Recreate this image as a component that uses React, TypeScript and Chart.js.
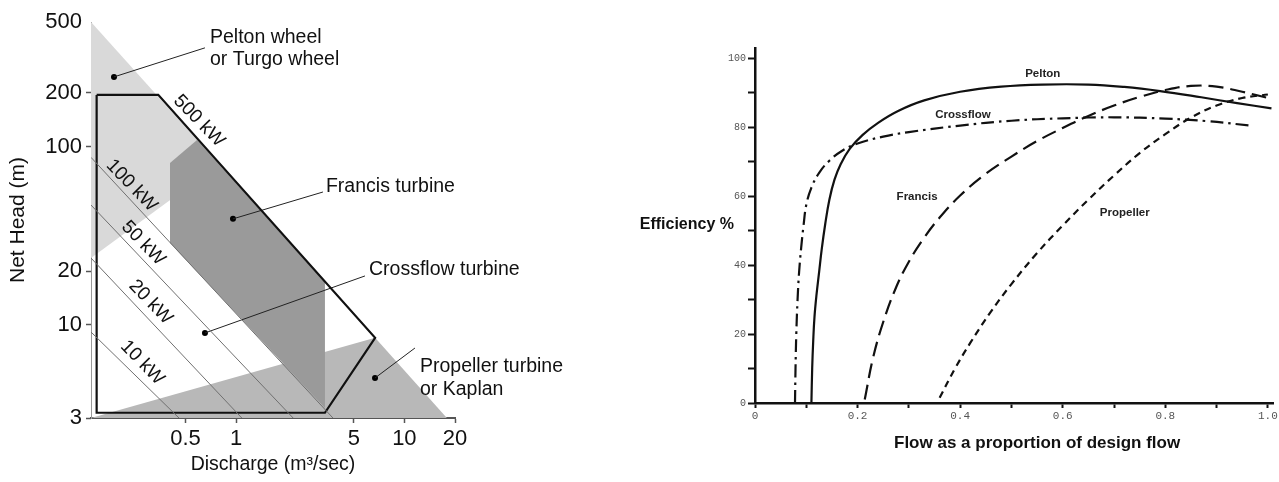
import React, { useEffect, useRef } from 'react';
import { Chart, registerables } from 'chart.js';

Chart.register(...registerables);

// ================= LEFT PANEL: turbine application ranges (log-log) =================
const headTicks = [3, 10, 20, 100, 200, 500];
const dischargeTicks = [0.5, 1, 5, 10, 20];

// Region polygons: discharge (m3/s) and net head (m)
const peltonRegionQ = [0.137, 0.137, 0.79];
const peltonRegionH = [500, 23.7, 79.5];
const propellerRegionQ = [0.137, 6.7, 17.9];
const propellerRegionH = [3, 8.45, 3];
const francisRegionQ = [0.404, 0.585, 3.37, 3.37, 0.404];
const francisRegionH = [80.9, 108.9, 17.4, 3.41, 28.8];

// Crossflow envelope (thick outline)
const crossflowOutlineQ = [0.148, 0.344, 6.7, 3.37, 0.148, 0.148];
const crossflowOutlineH = [195, 195, 8.45, 3.21, 3.21, 195];

// Constant power lines
const powerLabels = ['10 kW', '20 kW', '50 kW', '100 kW'];
const powerLineStartH = [9.11, 23.7, 47, 87];
const powerLineStartQ = [0.137, 0.137, 0.137, 0.137];
const powerLineEndQ = [0.457, 1.08, 2.18, 3.76];
const powerLineEndH = [3, 3, 3, 3];

// Power label anchors (500 kW labels the outline diagonal)
const powerTextLabels = ['500 kW', '100 kW', '50 kW', '20 kW', '10 kW'];
const powerTextQ = [0.601, 0.239, 0.28, 0.31, 0.2765];
const powerTextH = [139.3, 60.4, 28.7, 13.4, 6.13];

// Region names with leader lines (dot -> text end)
const regionNames = [
  ['Pelton wheel', 'or Turgo wheel'],
  ['Francis turbine'],
  ['Crossflow turbine'],
  ['Propeller turbine', 'or Kaplan'],
];
const leaderDotQ = [0.1877, 0.957, 0.652, 6.69];
const leaderDotH = [246, 39.3, 9.0, 5.03];
const leaderEndQ = [0.652, 3.28, 5.83, 11.56];
const leaderEndH = [358, 55.6, 18.8, 7.41];

// ================= RIGHT PANEL: part-flow efficiency =================
const peltonFlow = [0.110, 0.1115, 0.1135, 0.116, 0.12, 0.125, 0.13, 0.137, 0.145, 0.155, 0.167, 0.185, 0.21, 0.24, 0.28, 0.33, 0.4, 0.48, 0.56, 0.65, 0.72, 0.79, 0.87, 0.94, 1.007];
const peltonEff = [0, 10, 18, 25, 31.5, 38, 44.5, 52, 59, 64.8, 69.3, 73.8, 77.8, 81.3, 84.8, 87.8, 90.3, 91.8, 92.4, 92.4, 91.7, 90.5, 88.7, 87, 85.5];

const crossflowFlow = [0.078, 0.079, 0.0805, 0.083, 0.086, 0.09, 0.095, 0.1, 0.11, 0.125, 0.145, 0.17, 0.2, 0.25, 0.3, 0.4, 0.5, 0.6, 0.7, 0.8, 0.88, 0.965];
const crossflowEff = [0, 10, 20, 30, 38, 45, 52, 57.5, 62.5, 66.8, 70.3, 73.2, 75.3, 77.3, 78.6, 80.5, 81.9, 82.6, 82.9, 82.5, 81.8, 80.5];

const francisFlow = [0.214, 0.23, 0.25, 0.275, 0.3, 0.33, 0.36, 0.4, 0.45, 0.5, 0.55, 0.6, 0.65, 0.7, 0.75, 0.8, 0.85, 0.9, 0.95, 1.0];
const francisEff = [1, 13, 23.5, 33.5, 41, 48, 53.8, 60.2, 66.5, 71.5, 76, 79.8, 83.3, 86.3, 88.8, 90.8, 92, 91.8, 90.3, 88.5];

const propellerFlow = [0.36, 0.39, 0.42, 0.46, 0.5, 0.55, 0.6, 0.65, 0.7, 0.75, 0.8, 0.85, 0.9, 0.95, 1.0];
const propellerEff = [1.5, 10, 17.5, 26.5, 34.5, 43.5, 51.5, 59, 66, 72.5, 78, 82.8, 86.3, 88.5, 89.5];

const curveNames = ['Pelton', 'Crossflow', 'Francis', 'Propeller'];
const curveLabelFlow = [0.561, 0.4055, 0.316, 0.721];
const curveLabelEff = [95.4, 83.5, 59.7, 55.1];

const effTicks = [0, 20, 40, 60, 80, 100];

// ---------------------------------------------------------------
const SANS = '"Liberation Sans", Arial, Helvetica, sans-serif';
const MONO = '"Liberation Mono", "DejaVu Sans Mono", monospace';

const pts = (xs: number[], ys: number[]) => xs.map((x, i) => ({ x, y: ys[i] }));

function leftConfig(): any {
  const polys = [
    { q: peltonRegionQ, h: peltonRegionH, color: '#d9d9d9' },
    { q: propellerRegionQ, h: propellerRegionH, color: '#b8b8b8' },
    { q: francisRegionQ, h: francisRegionH, color: '#9a9a9a' },
  ];
  const line = (data: any[], color: string, width: number) => ({
    data,
    showLine: true,
    borderColor: color,
    borderWidth: width,
    pointRadius: 0,
    fill: false,
    tension: 0,
  });
  const datasets: any[] = [];
  powerLabels.forEach((_, i) => {
    datasets.push(line([
      { x: powerLineStartQ[i], y: powerLineStartH[i] },
      { x: powerLineEndQ[i], y: powerLineEndH[i] },
    ], '#707070', 1));
  });
  datasets.push(line(pts(crossflowOutlineQ, crossflowOutlineH), '#111', 2.2));
  regionNames.forEach((_, i) => {
    datasets.push(line([
      { x: leaderDotQ[i], y: leaderDotH[i] },
      { x: leaderEndQ[i], y: leaderEndH[i] },
    ], '#222', 1));
  });
  datasets.push({
    data: pts(leaderDotQ, leaderDotH),
    showLine: false,
    pointRadius: 3,
    pointBackgroundColor: '#000',
    pointBorderWidth: 0,
  });

  const plugin = {
    id: 'leftDecor',
    beforeDatasetsDraw(chart: any) {
      const { ctx, scales } = chart;
      const xs = scales.x, ys = scales.y;
      ctx.save();
      for (const p of polys) {
        ctx.beginPath();
        p.q.forEach((q: number, i: number) => {
          const px = xs.getPixelForValue(q);
          const py = ys.getPixelForValue(p.h[i]);
          if (i === 0) ctx.moveTo(px, py); else ctx.lineTo(px, py);
        });
        ctx.closePath();
        ctx.fillStyle = p.color;
        ctx.fill();
      }
      ctx.restore();
    },
    afterDatasetsDraw(chart: any) {
      const { ctx, scales } = chart;
      const xs = scales.x, ys = scales.y;
      ctx.save();
      ctx.fillStyle = '#111';
      // power labels (rotated)
      ctx.font = `19px ${SANS}`;
      ctx.textAlign = 'center';
      ctx.textBaseline = 'middle';
      powerTextLabels.forEach((t, i) => {
        const px = xs.getPixelForValue(powerTextQ[i]);
        const py = ys.getPixelForValue(powerTextH[i]);
        ctx.save();
        ctx.translate(px, py);
        ctx.rotate((46 * Math.PI) / 180);
        ctx.fillText(t, 0, 0);
        ctx.restore();
      });
      // region names
      ctx.font = `19.5px ${SANS}`;
      ctx.textAlign = 'left';
      const offs = [
        { dx: 5, dy: -10, lh: 22 },
        { dx: 3, dy: -5, lh: 22 },
        { dx: 4, dy: -6, lh: 22 },
        { dx: 5, dy: 19, lh: 23 },
      ];
      regionNames.forEach((lines, i) => {
        const px = xs.getPixelForValue(leaderEndQ[i]);
        const py = ys.getPixelForValue(leaderEndH[i]);
        lines.forEach((t, k) => {
          ctx.fillText(t, px + offs[i].dx, py + offs[i].dy + k * offs[i].lh);
        });
      });
      ctx.restore();
    },
  };

  return {
    type: 'scatter',
    data: { datasets },
    plugins: [plugin],
    options: {
      animation: false,
      responsive: false,
      events: [],
      layout: { padding: { top: 22, right: 145, left: 0, bottom: 0 } },
      plugins: { legend: { display: false }, tooltip: { enabled: false } },
      scales: {
        x: {
          type: 'logarithmic',
          min: 0.137,
          max: 20,
          z: 1,
          afterBuildTicks: (s: any) => { s.ticks = dischargeTicks.map((v) => ({ value: v })); },
          afterFit: (s: any) => { s.height = 64; },
          ticks: {
            autoSkip: false,
            maxRotation: 0,
            padding: 3,
            color: '#111',
            font: { family: SANS, size: 22 },
            callback: (v: any) => String(v),
          },
          grid: { drawOnChartArea: false, drawTicks: true, tickLength: 5, tickColor: '#555', tickWidth: 1.5 },
          border: { display: true, color: '#555', width: 2 },
          title: {
            display: true,
            text: 'Discharge (m³/sec)',
            color: '#111',
            font: { family: SANS, size: 19.5 },
            padding: { top: 0, bottom: 6 },
          },
        },
        y: {
          type: 'logarithmic',
          min: 3,
          max: 500,
          z: 1,
          afterBuildTicks: (s: any) => { s.ticks = headTicks.map((v) => ({ value: v })); },
          afterFit: (s: any) => { s.width = 91; },
          ticks: {
            autoSkip: false,
            padding: 4,
            color: '#111',
            font: { family: SANS, size: 22 },
            callback: (v: any) => String(v),
          },
          grid: {
            drawOnChartArea: false,
            drawTicks: true,
            tickLength: 5,
            tickWidth: 1.5,
            tickColor: (c: any) => (c.tick && c.tick.value === 500 ? 'rgba(0,0,0,0)' : '#555'),
          },
          border: { display: true, color: '#999', width: 1 },
          title: {
            display: true,
            text: 'Net Head (m)',
            color: '#111',
            font: { family: SANS, size: 21 },
            padding: { top: 6, bottom: 0 },
          },
        },
      },
    },
  };
}

function rightConfig(): any {
  const curve = (xs: number[], ys: number[], dash: number[]) => ({
    data: pts(xs, ys),
    showLine: true,
    borderColor: '#111',
    borderWidth: 2.2,
    borderDash: dash,
    borderCapStyle: 'butt',
    pointRadius: 0,
    fill: false,
    tension: 0.4,
  });
  const datasets = [
    curve(peltonFlow, peltonEff, []),
    curve(crossflowFlow, crossflowEff, [13, 5, 2.5, 5]),
    curve(francisFlow, francisEff, [15, 7]),
    curve(propellerFlow, propellerEff, [7, 5]),
  ];

  const plugin = {
    id: 'rightDecor',
    afterDatasetsDraw(chart: any) {
      const { ctx, scales, chartArea } = chart;
      const xs = scales.x, ys = scales.y;
      ctx.save();
      ctx.fillStyle = '#222';
      ctx.textBaseline = 'middle';
      ctx.textAlign = 'center';
      ctx.font = `bold 11.5px ${SANS}`;
      curveNames.forEach((t, i) => {
        ctx.fillText(t, xs.getPixelForValue(curveLabelFlow[i]), ys.getPixelForValue(curveLabelEff[i]));
      });
      ctx.fillStyle = '#111';
      ctx.font = `bold 16px ${SANS}`;
      ctx.textAlign = 'right';
      ctx.fillText('Efficiency %', chartArea.left - 21, ys.getPixelForValue(51.9));
      ctx.font = `bold 17px ${SANS}`;
      ctx.textAlign = 'center';
      ctx.fillText('Flow as a proportion of design flow', xs.getPixelForValue(0.55), chartArea.bottom + 40);
      ctx.restore();
    },
  };

  return {
    type: 'scatter',
    data: { datasets },
    plugins: [plugin],
    options: {
      animation: false,
      responsive: false,
      events: [],
      layout: { padding: { top: 48, right: 6, left: 0, bottom: 0 } },
      plugins: { legend: { display: false }, tooltip: { enabled: false } },
      scales: {
        x: {
          type: 'linear',
          min: 0,
          max: 1.01,
          afterFit: (s: any) => { s.height = 79; },
          ticks: {
            stepSize: 0.1,
            includeBounds: false,
            autoSkip: false,
            maxRotation: 0,
            padding: 1,
            color: '#555',
            font: { family: MONO, size: 11 },
            callback: (v: any) => {
              const k = Math.round(Number(v) * 10);
              if (k % 2 !== 0) return '';
              return k === 0 ? '0' : (k / 10).toFixed(1);
            },
          },
          grid: { drawOnChartArea: false, drawTicks: true, tickLength: 5, tickColor: '#111', tickWidth: 2 },
          border: { display: true, color: '#111', width: 2.5 },
        },
        y: {
          type: 'linear',
          min: 0,
          max: 103,
          afterFit: (s: any) => { s.width = 155; },
          ticks: {
            stepSize: 10,
            includeBounds: false,
            autoSkip: false,
            padding: 2,
            color: '#555',
            font: { family: MONO, size: 10 },
            callback: (v: any) => (effTicks.includes(Math.round(Number(v))) ? String(Math.round(Number(v))) : ''),
          },
          grid: { drawOnChartArea: false, drawTicks: true, tickLength: 7, tickColor: '#111', tickWidth: 2 },
          border: { display: true, color: '#111', width: 2.5 },
        },
      },
    },
  };
}

export default function App() {
  const leftRef = useRef<HTMLCanvasElement>(null);
  const rightRef = useRef<HTMLCanvasElement>(null);

  useEffect(() => {
    const left = new Chart(leftRef.current as HTMLCanvasElement, leftConfig());
    const right = new Chart(rightRef.current as HTMLCanvasElement, rightConfig());
    return () => {
      left.destroy();
      right.destroy();
    };
  }, []);

  return (
    <div style={{ position: 'fixed', left: 0, top: 0, width: 1279, height: 482, background: '#fff', overflow: 'hidden' }}>
      <canvas ref={leftRef} width={600} height={482} style={{ position: 'absolute', left: 0, top: 0, width: 600, height: 482 }} />
      <canvas ref={rightRef} width={679} height={482} style={{ position: 'absolute', left: 600, top: 0, width: 679, height: 482 }} />
    </div>
  );
}
